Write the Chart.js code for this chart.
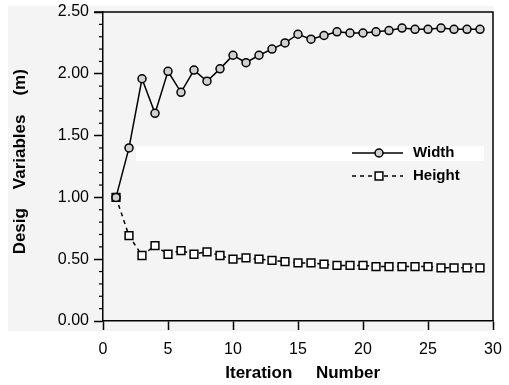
<!DOCTYPE html>
<html>
<head>
<meta charset="utf-8">
<script src="https://cdn.jsdelivr.net/npm/chart.js@4.4.0/dist/chart.umd.min.js"></script>
<style>
	html, body { margin: 0; padding: 0; background: #fff; }
	#wrap { width: 509px; height: 385px; }
</style>
</head>
<body>
<div id="wrap"><canvas id="chart"></canvas></div>
<script>
	const iterations = [1, 2, 3, 4, 5, 6, 7, 8, 9, 10, 11, 12, 13, 14, 15, 16, 17, 18, 19, 20, 21, 22, 23, 24, 25, 26, 27, 28, 29];
	const widthValues = [1.00, 1.40, 1.96, 1.68, 2.02, 1.85, 2.03, 1.94, 2.04, 2.15, 2.09, 2.15, 2.20, 2.25, 2.32, 2.28, 2.31, 2.34, 2.33, 2.33, 2.34, 2.35, 2.37, 2.36, 2.36, 2.37, 2.36, 2.36, 2.36];
	const heightValues = [1.00, 0.69, 0.53, 0.61, 0.54, 0.57, 0.54, 0.56, 0.53, 0.50, 0.51, 0.50, 0.49, 0.48, 0.47, 0.47, 0.46, 0.45, 0.45, 0.45, 0.44, 0.44, 0.44, 0.44, 0.44, 0.43, 0.43, 0.43, 0.43];
	const seriesLabels = ["Width", "Height"];
	const xTicks = [0, 5, 10, 15, 20, 25, 30];
	const yTicks = [0.0, 0.5, 1.0, 1.5, 2.0, 2.5];

	const toXY = (vals) => vals.map((v, i) => ({ x: iterations[i], y: v }));

	// grey paper, scan stripe, frame and minor ticks
	const paper = {
		id: "paper",
		beforeDraw(chart) {
			const { ctx, chartArea: a } = chart;
			ctx.save();
			ctx.fillStyle = "#f4f4f4";
			ctx.fillRect(8, 6, a.right - 8, a.bottom + 10 - 6);
			ctx.fillStyle = "#ffffff";
			ctx.fillRect(136, 146, 348, 15);
			ctx.restore();
		},
		afterDraw(chart) {
			const { ctx, chartArea: a, scales } = chart;
			ctx.save();
			ctx.strokeStyle = "#000";
			ctx.lineWidth = 1.5;
			ctx.beginPath();
			ctx.moveTo(a.left - 9, a.top);
			ctx.lineTo(a.right, a.top);
			ctx.lineTo(a.right, a.bottom);
			ctx.stroke();
			ctx.lineWidth = 1.2;
			const y = scales.y;
			for (let v = 0.1; v < 2.5; v += 0.1) {
				const r = Math.round(v * 10);
				if (r % 5 === 0) continue;
				const py = y.getPixelForValue(r / 10);
				ctx.beginPath();
				ctx.moveTo(a.left - 4, py);
				ctx.lineTo(a.left, py);
				ctx.stroke();
			}
			ctx.restore();
		},
	};

	// legend drawn inside the plot
	const innerLegend = {
		id: "innerLegend",
		afterDatasetsDraw(chart) {
			const { ctx } = chart;
			const rows = [
				{ y: 153, dash: [], ds: chart.data.datasets[0] },
				{ y: 176, dash: [4, 4], ds: chart.data.datasets[1] },
			];
			ctx.save();
			rows.forEach((row) => {
				ctx.strokeStyle = "#000";
				ctx.lineWidth = 1.5;
				ctx.setLineDash(row.dash);
				ctx.beginPath();
				ctx.moveTo(352, row.y);
				ctx.lineTo(403, row.y);
				ctx.stroke();
				ctx.setLineDash([]);
				ctx.fillStyle = row.ds.pointBackgroundColor;
				ctx.lineWidth = 1.5;
				Chart.helpers.drawPoint(ctx, {
					pointStyle: row.ds.pointStyle,
					radius: row.ds.pointRadius,
					borderWidth: 1.5,
					rotation: 0,
				}, 379, row.y);
				ctx.fillStyle = "#000";
				ctx.font = "bold 15px 'Liberation Sans', Arial, sans-serif";
				ctx.textBaseline = "middle";
				ctx.fillText(row.ds.label, 413, row.y);
			});
			ctx.restore();
		},
	};

	const data = {
		datasets: [
			{
				label: seriesLabels[0],
				data: toXY(widthValues),
				borderColor: "#000",
				borderWidth: 1.5,
				pointStyle: "circle",
				pointRadius: 4,
				pointBackgroundColor: "#d0d0d0",
				pointBorderColor: "#000",
				pointBorderWidth: 1.5,
			},
			{
				label: seriesLabels[1],
				data: toXY(heightValues),
				borderColor: "#000",
				borderWidth: 1.5,
				borderDash: [4, 4],
				pointStyle: "rect",
				pointRadius: 5.5,
				pointBackgroundColor: "#fff",
				pointBorderColor: "#000",
				pointBorderWidth: 1.5,
			},
		],
	};

	const tickFont = { family: "'Liberation Sans', Arial, sans-serif", size: 16 };
	const titleFont = { family: "'Liberation Sans', Arial, sans-serif", size: 17, weight: "bold" };

	const options = {
		responsive: true,
		maintainAspectRatio: false,
		animation: false,
		layout: { padding: { top: 12, right: 16, left: 0, bottom: 0 } },
		plugins: { legend: { display: false }, tooltip: { enabled: false } },
		scales: {
			x: {
				type: "linear",
				min: 0,
				max: 30,
				afterBuildTicks: (s) => { s.ticks = xTicks.map((v) => ({ value: v })); },
				afterFit: (s) => { s.height = 64; s.paddingRight = 0; s.paddingLeft = 0; },
				ticks: { color: "#000", font: tickFont, padding: 10, maxRotation: 0 },
				grid: { drawOnChartArea: false, tickLength: 9, tickColor: "#000", tickWidth: 1.5 },
				border: { color: "#000", width: 1.5 },
				title: { display: true, text: "  Iteration     Number", color: "#000", font: titleFont, padding: { top: 0, bottom: 1 } },
			},
			y: {
				min: 0,
				max: 2.5,
				afterBuildTicks: (s) => { s.ticks = yTicks.map((v) => ({ value: v })); },
				afterFit: (s) => { s.width = 103; s.paddingTop = 0; s.paddingBottom = 0; },
				ticks: { color: "#000", font: tickFont, padding: 5, callback: (v) => v.toFixed(2) },
				grid: { drawOnChartArea: false, tickLength: 9, tickColor: "#000", tickWidth: 1.5 },
				border: { color: "#000", width: 1.5 },
				title: { display: true, text: "  Desig    Variables    (m)", color: "#000", font: titleFont, padding: { top: 10, bottom: 0 } },
			},
		},
	};

	new Chart(document.getElementById("chart").getContext("2d"), {
		type: "line",
		data: data,
		options: options,
		plugins: [paper, innerLegend],
	});
</script>
</body>
</html>
